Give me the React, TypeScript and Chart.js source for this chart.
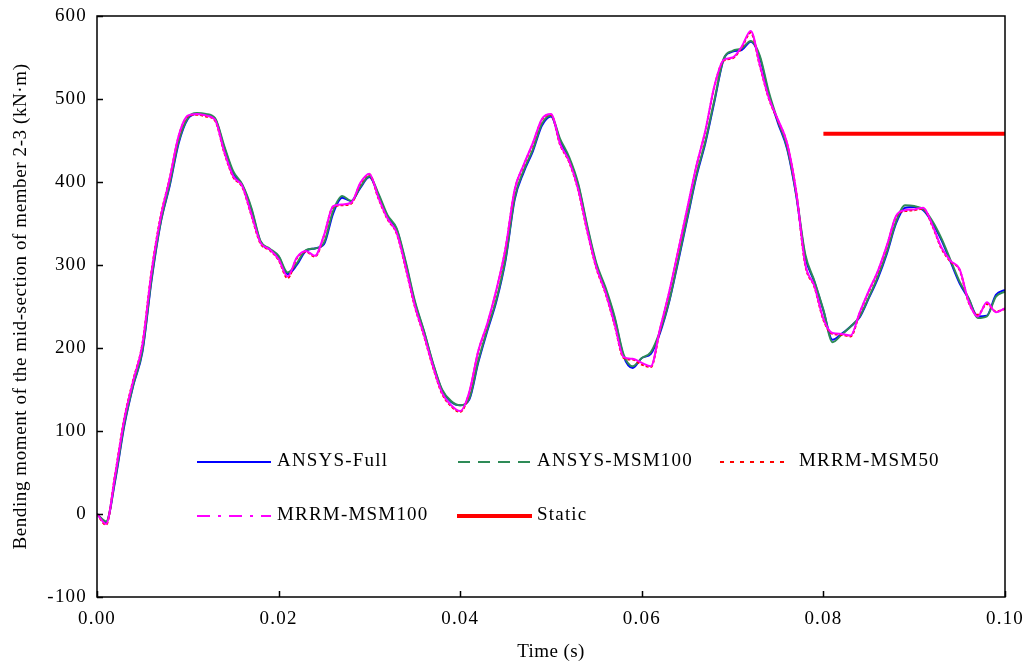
import React, { useEffect, useRef } from 'react';
import { Chart, registerables } from 'chart.js';

Chart.register(...registerables);

// time in milliseconds (axis shows seconds)
const timeMs = [
  0, 1, 2, 3, 4, 5, 6, 7, 8, 9, 10, 11, 12, 13, 14, 15, 16, 17, 18, 19, 20,
  21, 22, 23, 24, 25, 26, 27, 28, 29, 30, 31, 32, 33, 34, 35, 36, 37, 38, 39, 40,
  41, 42, 43, 44, 45, 46, 47, 48, 49, 50, 51, 52, 53, 54, 55, 56, 57, 58, 59, 60,
  61, 62, 63, 64, 65, 66, 67, 68, 69, 70, 71, 72, 73, 74, 75, 76, 77, 78, 79, 80,
  81, 82, 83, 84, 85, 86, 87, 88, 89, 90, 91, 92, 93, 94, 95, 96, 97, 98, 99, 100,
];

const ansysFull = [
  0, -10, 40, 106, 155, 195, 281, 350, 395, 447, 476,
  482, 481, 476, 442, 411, 396, 367, 328, 319, 310,
  289, 300, 317, 320, 325, 362, 381, 377, 393, 406,
  384, 358, 343, 302, 255, 220, 181, 149, 135, 131,
  138, 183, 221, 257, 306, 379, 412, 437, 468, 479,
  450, 428, 396, 345, 300, 271, 236, 190, 176, 188,
  193, 218, 255, 304, 355, 406, 447, 497, 547, 557,
  559, 569, 550, 505, 471, 440, 384, 310, 280, 245,
  210, 217, 226, 237, 260, 284, 314, 350, 369, 370,
  366, 351, 330, 304, 278, 259, 238, 239, 264, 270,
];

const ansysMsm100 = [
  0, -9, 42, 108, 156, 197, 283, 351, 397, 449, 477,
  483, 482, 477, 444, 413, 397, 369, 329, 320, 311,
  291, 302, 318, 320, 327, 365, 383, 377, 394, 407,
  386, 360, 344, 304, 257, 221, 182, 150, 136, 131,
  139, 185, 223, 259, 308, 381, 414, 439, 470, 480,
  452, 430, 398, 347, 302, 273, 238, 192, 178, 188,
  195, 220, 256, 306, 357, 408, 449, 499, 548, 558,
  561, 570, 552, 508, 473, 442, 386, 313, 281, 246,
  207, 216, 226, 238, 261, 286, 316, 352, 372, 371,
  367, 353, 332, 306, 280, 260, 236, 238, 262, 268,
];

const mrrmMsm50 = [
  0, -13, 48, 115, 162, 205, 292, 358, 404, 455, 479,
  481, 479, 474, 436, 406, 394, 360, 326, 318, 306,
  284, 308, 316, 310, 335, 370, 372, 374, 398, 409,
  380, 355, 338, 296, 250, 215, 177, 145, 130, 123,
  146, 196, 229, 270, 320, 390, 420, 446, 475, 481,
  445, 424, 390, 340, 296, 266, 228, 188, 186, 180,
  177, 222, 266, 316, 367, 418, 461, 515, 546, 549,
  562, 580, 540, 500, 474, 446, 388, 300, 274, 234,
  217, 216, 214, 242, 268, 292, 323, 358, 365, 366,
  368, 347, 320, 304, 294, 255, 240, 253, 244, 247,
];

const mrrmMsm100 = [
  0, -12, 47, 114, 161, 204, 291, 357, 404, 456, 480,
  482, 480, 475, 437, 407, 395, 361, 327, 319, 307,
  286, 309, 317, 311, 336, 371, 373, 375, 399, 410,
  381, 356, 339, 297, 251, 216, 178, 146, 131, 124,
  147, 197, 230, 271, 321, 391, 421, 447, 476, 482,
  446, 425, 391, 341, 297, 267, 229, 189, 187, 182,
  178, 223, 267, 317, 368, 419, 462, 516, 547, 550,
  563, 582, 541, 501, 475, 447, 389, 301, 275, 235,
  218, 217, 215, 243, 269, 293, 324, 359, 366, 367,
  369, 348, 321, 305, 295, 256, 238, 255, 243, 248,
];

const staticTimeMs = [80, 100];
const staticValue = [458, 458];

const xTickLabels = ['0.00', '0.02', '0.04', '0.06', '0.08', '0.10'];
const yTickValues = [-100, 0, 100, 200, 300, 400, 500, 600];

const legendNames = ['ANSYS-Full', 'ANSYS-MSM100', 'MRRM-MSM50', 'MRRM-MSM100', 'Static'];

const FONT = '"Liberation Serif", "Times New Roman", serif';

const framePlugin = {
  id: 'framePlugin',
  beforeDraw(chart: any) {
    chart.ctx.letterSpacing = '1.2px';
  },
  afterDraw(chart: any) {
    const { ctx, chartArea } = chart;
    const { left, right, top, bottom } = chartArea;
    const xs = chart.scales.x;
    const ys = chart.scales.y;
    ctx.save();
    ctx.strokeStyle = '#000';
    ctx.lineWidth = 1.5;
    ctx.strokeRect(left, top, right - left, bottom - top);
    ctx.beginPath();
    for (const v of yTickValues) {
      const y = Math.round(ys.getPixelForValue(v)) + 0.5;
      ctx.moveTo(left, y);
      ctx.lineTo(left + 6, y);
    }
    for (let i = 0; i < xTickLabels.length; i++) {
      const x = Math.round(xs.getPixelForValue(i * 20)) + 0.5;
      ctx.moveTo(x, bottom);
      ctx.lineTo(x, bottom - 6);
    }
    ctx.stroke();

    // axis titles
    ctx.fillStyle = '#000';
    ctx.font = `19px ${FONT}`;
    (ctx as any).letterSpacing = '0.4px';
    ctx.textAlign = 'center';
    ctx.textBaseline = 'middle';
    ctx.fillText('Time (s)', (left + right) / 2, 652);
    ctx.translate(21, (top + bottom) / 2);
    ctx.rotate(-Math.PI / 2);
    (ctx as any).letterSpacing = '0.6px';
    ctx.fillText('Bending moment of the mid-section of member 2-3 (kN·m)', 0, 0);
    ctx.restore();

    // legend
    const items = [
      { x1: 197, x2: 271, y: 462, color: '#0000ff', w: 2, dash: [] as number[], tx: 277 },
      { x1: 458, x2: 530, y: 462, color: '#2e8b57', w: 2, dash: [12, 8], tx: 537 },
      { x1: 720, x2: 790, y: 462, color: '#ff0000', w: 2, dash: [4, 6], tx: 799 },
      { x1: 197, x2: 271, y: 516, color: '#ff00ff', w: 2, dash: [13, 8, 3, 8], tx: 277 },
      { x1: 457, x2: 532, y: 516, color: '#ff0000', w: 4, dash: [], tx: 537 },
    ];
    ctx.save();
    ctx.font = `19px ${FONT}`;
    (ctx as any).letterSpacing = '1.2px';
    ctx.textAlign = 'left';
    ctx.textBaseline = 'middle';
    items.forEach((it, i) => {
      ctx.beginPath();
      ctx.setLineDash(it.dash);
      ctx.strokeStyle = it.color;
      ctx.lineWidth = it.w;
      ctx.moveTo(it.x1, it.y);
      ctx.lineTo(it.x2, it.y);
      ctx.stroke();
      ctx.setLineDash([]);
      ctx.fillStyle = '#000';
      ctx.fillText(legendNames[i], it.tx, it.y - 1);
    });
    ctx.restore();
  },
};

export default function App() {
  const canvasRef = useRef<HTMLCanvasElement | null>(null);

  useEffect(() => {
    document.body.style.margin = '0';
    const canvas = canvasRef.current;
    if (!canvas) return;

    const mk = (vals: number[]) => timeMs.map((t, i) => ({ x: t, y: vals[i] }));

    const chart = new Chart(canvas, {
      type: 'line',
      data: {
        datasets: [
          {
            label: legendNames[0],
            data: mk(ansysFull),
            borderColor: '#0000ff',
            borderWidth: 2,
            pointRadius: 0,
            cubicInterpolationMode: 'monotone',
            order: 4,
          },
          {
            label: legendNames[1],
            data: mk(ansysMsm100),
            borderColor: '#2e8b57',
            borderWidth: 2,
            pointRadius: 0,
            cubicInterpolationMode: 'monotone',
            order: 3,
          },
          {
            label: legendNames[2],
            data: mk(mrrmMsm50),
            borderColor: '#ff0000',
            borderWidth: 2,
            borderDash: [3, 2],
            pointRadius: 0,
            cubicInterpolationMode: 'monotone',
            order: 2,
          },
          {
            label: legendNames[3],
            data: mk(mrrmMsm100),
            borderColor: '#ff00ff',
            borderWidth: 2,
            pointRadius: 0,
            cubicInterpolationMode: 'monotone',
            order: 1,
          },
          {
            label: legendNames[4],
            data: staticTimeMs.map((t, i) => ({ x: t, y: staticValue[i] })),
            borderColor: '#ff0000',
            borderWidth: 4,
            pointRadius: 0,
            order: 0,
          },
        ],
      },
      options: {
        animation: false,
        responsive: false,
        maintainAspectRatio: false,
        events: [],
        layout: { padding: { top: 16, right: 24, left: 0, bottom: 0 } },
        plugins: {
          legend: { display: false },
          tooltip: { enabled: false },
        },
        scales: {
          x: {
            type: 'linear',
            min: 0,
            max: 100,
            grid: { display: false, drawTicks: false },
            border: { display: false },
            ticks: {
              stepSize: 20,
              padding: 11,
              color: '#000',
              font: { family: FONT, size: 19 },
              maxRotation: 0,
              callback: (v: any) => xTickLabels[Math.round(Number(v) / 20)] ?? '',
            },
            afterFit: (s: any) => {
              s.height = 68;
              s.paddingLeft = 0;
              s.paddingRight = 0;
            },
          },
          y: {
            type: 'linear',
            min: -100,
            max: 600,
            grid: { display: false, drawTicks: false },
            border: { display: false },
            ticks: {
              stepSize: 100,
              padding: 10,
              color: '#000',
              font: { family: FONT, size: 19 },
            },
            afterFit: (s: any) => {
              s.width = 97;
              s.paddingTop = 0;
              s.paddingBottom = 0;
            },
          },
        },
      },
      plugins: [framePlugin],
    });

    return () => chart.destroy();
  }, []);

  return (
    <div style={{ width: 1029, height: 665 }}>
      <canvas ref={canvasRef} width={1029} height={665} style={{ display: 'block' }} />
    </div>
  );
}
